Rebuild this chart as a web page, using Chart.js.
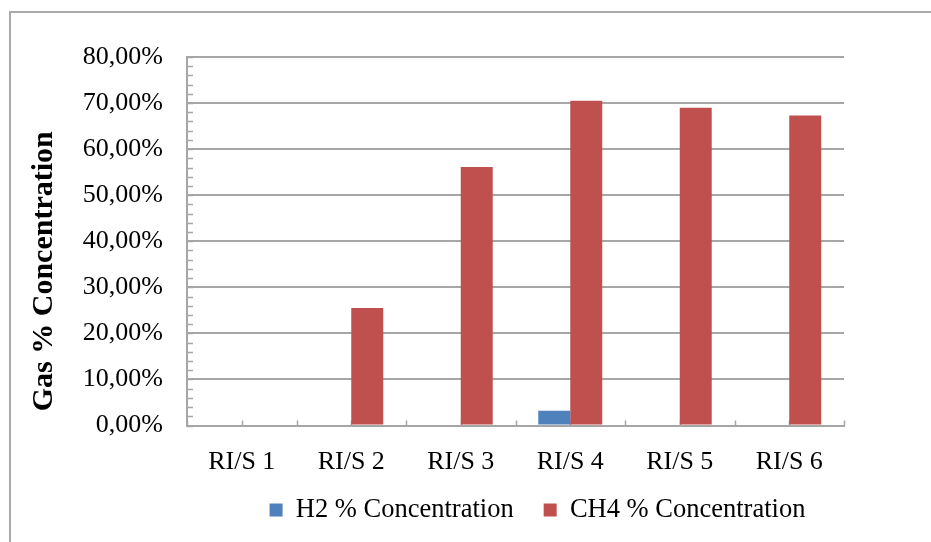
<!DOCTYPE html>
<html>
<head>
<meta charset="utf-8">
<script src="https://cdn.jsdelivr.net/npm/chart.js@4/dist/chart.umd.min.js"></script>
<style>
  html, body { margin: 0; padding: 0; background: #fff; overflow: hidden; }
  /* outer chart frame, runs off the right and bottom edge like the original */
  #frame { position: absolute; left: 9px; top: 11px; width: 1000px; height: 1000px; border: 2px solid #a9a9a9; }
  #wrap { position: absolute; left: 0; top: 0; width: 931px; height: 542px; }
</style>
</head>
<body>
<div id="frame"></div>
<div id="wrap"><canvas id="chart" width="931" height="542"></canvas></div>
<script>
  // data
  const categories = ['RI/S 1', 'RI/S 2', 'RI/S 3', 'RI/S 4', 'RI/S 5', 'RI/S 6'];
  const h2Values = [0, 0, 0, 3.2, 0, 0];
  const ch4Values = [0, 25.5, 56.1, 70.5, 69.0, 67.3];
  const seriesNames = ['H2 % Concentration', 'CH4 % Concentration'];
  const yTitle = 'Gas % Concentration';
  const yMin = 0, yMax = 80, yStep = 10, yMinorStep = 2;

  const serif = '"Liberation Serif", "Times New Roman", serif';
  const gridColor = '#a6a6a6';
  const legendFont = 26.5, legendPad = 30;

  // small extras: minor ticks, x tick marks, rotated axis title, legend placement
  const excelBits = {
    id: 'excelBits',
    afterLayout(chart) {
      const lg = chart.legend, ca = chart.chartArea;
      const dx = (ca.left + ca.right) / 2 + 22 - (lg.left + lg.right) / 2;
      const dy = (510 - legendPad - legendFont / 2) - lg.top;
      lg.left += dx; lg.right += dx;
      lg.top += dy; lg.bottom += dy;
    },
    beforeDatasetsDraw(chart) {
      const { ctx, chartArea: ca, scales: { x, y } } = chart;
      ctx.save();
      ctx.strokeStyle = gridColor;
      ctx.lineWidth = 1.5;
      ctx.beginPath();
      for (let v = yMin; v <= yMax; v += yMinorStep) {
        const py = Math.round(y.getPixelForValue(v)) + 0.5;
        ctx.moveTo(ca.left, py);
        ctx.lineTo(ca.left + 6, py);
      }
      for (let i = 0; i <= categories.length * 2; i++) {
        const px = Math.round(x.getPixelForValue(i / 2 - 0.5)) + 0.5;
        ctx.moveTo(px, ca.bottom);
        ctx.lineTo(px, ca.bottom - 5);
      }
      ctx.stroke();
      ctx.restore();
    },
    afterDraw(chart) {
      const { ctx, chartArea: ca } = chart;
      ctx.save();
      ctx.translate(ca.left - 143, (ca.top + ca.bottom) / 2 + 30);
      ctx.rotate(-Math.PI / 2);
      ctx.font = 'bold 30px ' + serif;
      ctx.fillStyle = '#000';
      ctx.textAlign = 'center';
      ctx.textBaseline = 'middle';
      ctx.fillText(yTitle, 0, 0);
      ctx.restore();
    }
  };

  new Chart(document.getElementById('chart'), {
    type: 'bar',
    data: {
      labels: categories,
      datasets: [
        { label: seriesNames[0], data: h2Values, backgroundColor: '#4F81BD' },
        { label: seriesNames[1], data: ch4Values, backgroundColor: '#C0504D' }
      ]
    },
    options: {
      responsive: false,
      animation: false,
      devicePixelRatio: 1,
      categoryPercentage: 0.584,
      barPercentage: 1,
      layout: { padding: { top: 57, right: 87, bottom: 0, left: 0 } },
      scales: {
        x: {
          grid: { display: false, drawTicks: false },
          border: { color: gridColor, width: 2 },
          ticks: { color: '#000', font: { family: serif, size: 26 }, padding: 21 },
          afterFit(s) { s.height = 50; }
        },
        y: {
          min: yMin, max: yMax,
          grid: { color: gridColor, lineWidth: 2, drawTicks: false },
          border: { color: gridColor, width: 2 },
          ticks: {
            stepSize: yStep, color: '#000', padding: 24,
            font: { family: serif, size: 26 },
            callback: v => v.toFixed(2).replace('.', ',') + '%'
          },
          afterFit(s) { s.width = 187; }
        }
      },
      plugins: {
        tooltip: { enabled: false },
        legend: {
          position: 'bottom',
          fullSize: false,
          labels: {
            color: '#000', boxWidth: 13, boxHeight: 13, padding: legendPad,
            font: { family: serif, size: legendFont }
          }
        }
      }
    },
    plugins: [excelBits]
  });
</script>
</body>
</html>
